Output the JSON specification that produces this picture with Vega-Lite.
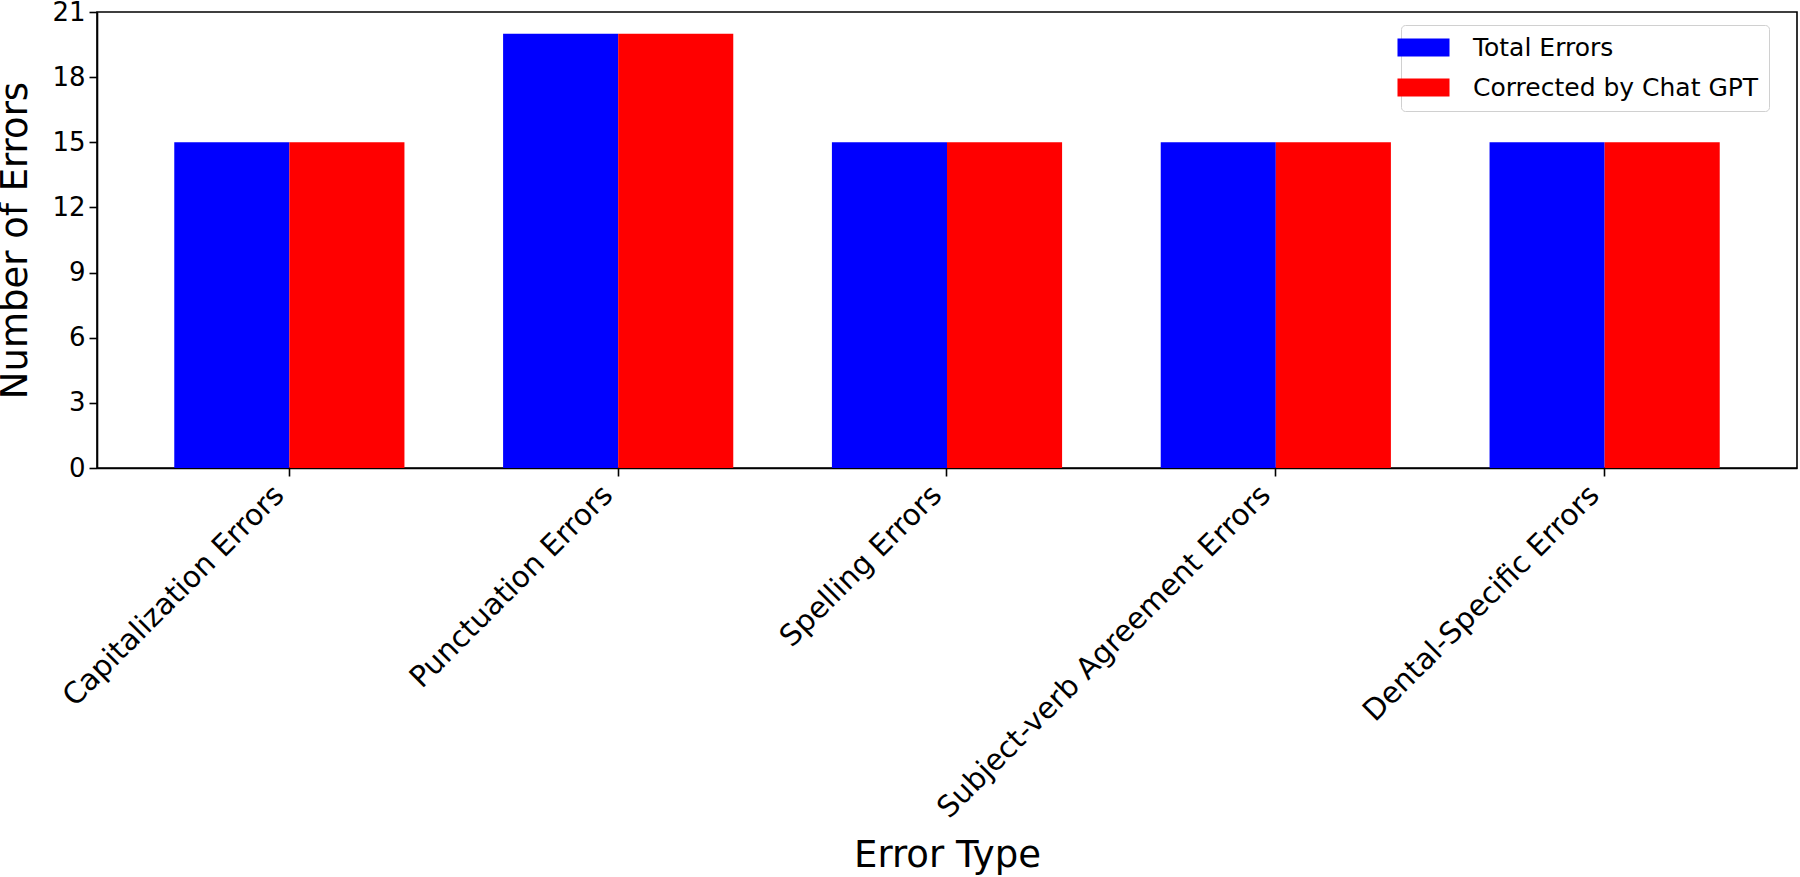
{
  "$schema": "https://vega.github.io/schema/vega-lite/v6.json",
  "width": 1700,
  "height": 456,
  "autosize": {"type": "none"},
  "padding": {"left": 97, "top": 12, "right": 3, "bottom": 409},
  "background": "white",
  "config": {
    "font": "DejaVu Sans",
    "view": {"stroke": "black", "strokeWidth": 1.6},
    "axis": {"grid": false, "domainColor": "black", "tickColor": "black", "labelColor": "black", "titleColor": "black", "domainWidth": 1.6, "tickWidth": 1.6, "tickSize": 8, "labelFont": "DejaVu Sans", "titleFont": "DejaVu Sans", "titleFontWeight": "normal", "labelFontSize": 26, "titleFontSize": 37, "labelLimit": 0}
  },
  "data": {
    "values": [
      {"type": "Capitalization Errors", "series": "Total Errors", "count": 15},
      {"type": "Capitalization Errors", "series": "Corrected by Chat GPT", "count": 15},
      {"type": "Punctuation Errors", "series": "Total Errors", "count": 20},
      {"type": "Punctuation Errors", "series": "Corrected by Chat GPT", "count": 20},
      {"type": "Spelling Errors", "series": "Total Errors", "count": 15},
      {"type": "Spelling Errors", "series": "Corrected by Chat GPT", "count": 15},
      {"type": "Subject-verb Agreement Errors", "series": "Total Errors", "count": 15},
      {"type": "Subject-verb Agreement Errors", "series": "Corrected by Chat GPT", "count": 15},
      {"type": "Dental-Specific Errors", "series": "Total Errors", "count": 15},
      {"type": "Dental-Specific Errors", "series": "Corrected by Chat GPT", "count": 15}
    ]
  },
  "mark": {"type": "bar"},
  "encoding": {
    "x": {
      "field": "type", "type": "nominal", "sort": null,
      "scale": {"paddingInner": 0.3, "paddingOuter": 0.235},
      "axis": {"title": "Error Type", "labelAngle": -45, "labelAlign": "right", "labelBaseline": "top", "labelPadding": 4, "labelFontSize": 29.5, "labelOffset": -20, "titleBaseline": "alphabetic", "titleY": 398, "domain": true}
    },
    "xOffset": {
      "field": "series", "type": "nominal",
      "sort": ["Total Errors", "Corrected by Chat GPT"],
      "scale": {"paddingInner": 0, "paddingOuter": 0}
    },
    "y": {
      "field": "count", "type": "quantitative",
      "scale": {"domain": [0, 21], "nice": false},
      "axis": {"title": "Number of Errors", "values": [0, 3, 6, 9, 12, 15, 18, 21], "labelPadding": 4, "titlePadding": 17}
    },
    "color": {
      "field": "series", "type": "nominal",
      "sort": ["Total Errors", "Corrected by Chat GPT"],
      "scale": {"domain": ["Total Errors", "Corrected by Chat GPT"], "range": ["#0000ff", "#ff0000"]},
      "legend": {
        "title": null,
        "orient": "none",
        "legendX": 1304,
        "legendY": 13,
        "symbolType": "M-2.89,-1H2.89V1H-2.89Z",
        "symbolSize": 324,
        "symbolStrokeWidth": 0,
        "symbolOpacity": 1,
        "labelFontSize": 25,
        "labelFont": "DejaVu Sans",
        "labelColor": "black",
        "labelLimit": 0,
        "labelOffset": 37,
        "rowPadding": 14,
        "padding": 10,
        "strokeColor": "#d0d0d0",
        "fillColor": "white",
        "cornerRadius": 4
      }
    }
  }
}
